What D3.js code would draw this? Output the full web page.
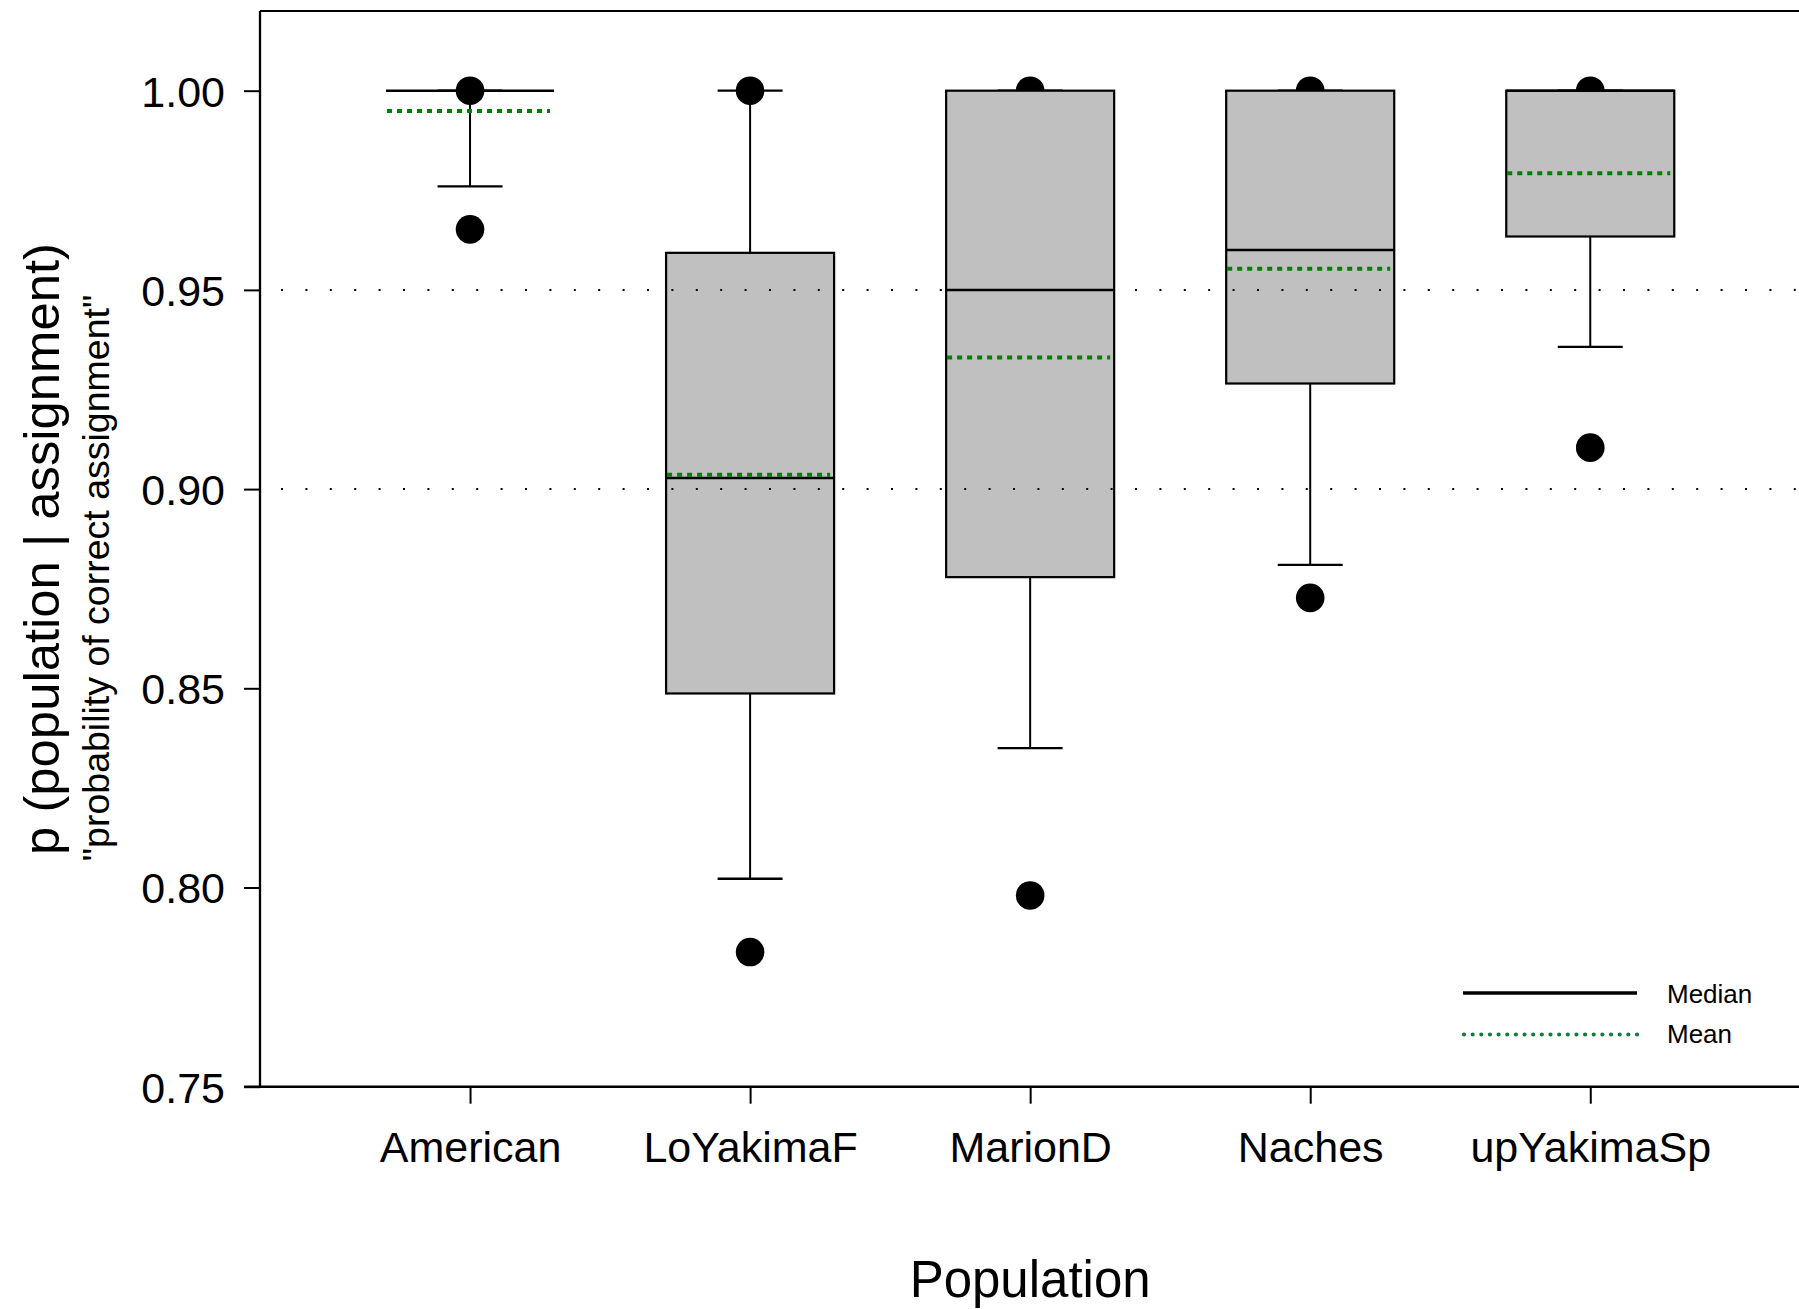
<!DOCTYPE html>
<html>
<head>
<meta charset="utf-8">
<script src="https://cdn.jsdelivr.net/npm/d3@7"></script>
<style>
  html, body { margin: 0; padding: 0; background: #fff; }
  svg { display: block; font-family: "Liberation Sans", Arial, sans-serif; }
</style>
</head>
<body>
<svg id="chart" width="1799" height="1309"></svg>
<script>
// Populations and box-plot summaries of p(population | assignment)
const categories   = ["American", "LoYakimaF", "MarionD", "Naches", "upYakimaSp"];
const whiskerLow   = [0.976, 0.8022, 0.835, 0.881, 0.9357];
const q1           = [1.000, 0.8487, 0.8779, 0.9265, 0.9634];
const median       = [1.000, 0.9028, 0.950, 0.960, 1.000];
const q3           = [1.000, 0.9593, 1.000, 1.000, 1.000];
const whiskerHigh  = [1.000, 1.000, 1.000, 1.000, 1.000];
const mean         = [0.9949, 0.9036, 0.933, 0.9553, 0.9793];
const outliers     = [[1.000, 0.9652], [1.000, 0.7838], [1.000, 0.798], [1.000, 0.8727], [1.000, 0.9104]];
const yTicks       = [0.75, 0.80, 0.85, 0.90, 0.95, 1.00];
const refLines     = [0.90, 0.95];

const svg = d3.select("#chart");
const plotLeft = 260, plotTop = 11, plotBottom = 1086.7, plotRight = 1800.3;

const x = d3.scaleLinear().domain([0.25, 5.75]).range([plotLeft, plotRight]);
const y = d3.scaleLinear().domain([0.75, 1.02]).range([plotBottom, plotTop]);

const boxW = 0.6, capW = 0.232;
const rows = categories.map((c, i) => ({
  c, pos: i + 1, lo: whiskerLow[i], q1: q1[i], med: median[i], q3: q3[i],
  hi: whiskerHigh[i], mean: mean[i], out: outliers[i]
}));

const g = svg.append("g");

// whiskers
g.selectAll("line.wlo").data(rows).join("line").attr("class", "wlo")
  .attr("x1", d => x(d.pos)).attr("x2", d => x(d.pos))
  .attr("y1", d => y(d.q1)).attr("y2", d => y(d.lo))
  .attr("stroke", "#000").attr("stroke-width", 2);
g.selectAll("line.whi").data(rows).join("line").attr("class", "whi")
  .attr("x1", d => x(d.pos)).attr("x2", d => x(d.pos))
  .attr("y1", d => y(d.q3)).attr("y2", d => y(d.hi))
  .attr("stroke", "#000").attr("stroke-width", 2);
// caps
["lo", "hi"].forEach(k => {
  g.selectAll("line.cap" + k).data(rows).join("line").attr("class", "cap" + k)
    .attr("x1", d => x(d.pos - capW / 2)).attr("x2", d => x(d.pos + capW / 2))
    .attr("y1", d => y(d[k])).attr("y2", d => y(d[k]))
    .attr("stroke", "#000").attr("stroke-width", 2.3);
});

// outlying points
const pts = rows.flatMap(d => d.out.map(v => ({ pos: d.pos, v })));
g.selectAll("circle.pt").data(pts).join("circle").attr("class", "pt")
  .attr("cx", d => x(d.pos)).attr("cy", d => y(d.v)).attr("r", 14.3)
  .attr("fill", "#000");

// boxes
g.selectAll("rect.box").data(rows.filter(d => d.q3 > d.q1)).join("rect").attr("class", "box")
  .attr("x", d => x(d.pos - boxW / 2))
  .attr("width", d => x(d.pos + boxW / 2) - x(d.pos - boxW / 2))
  .attr("y", d => y(d.q3))
  .attr("height", d => y(d.q1) - y(d.q3))
  .attr("fill", "#c0c0c0").attr("stroke", "#000").attr("stroke-width", 2.2);

// medians
g.selectAll("line.med").data(rows).join("line").attr("class", "med")
  .attr("x1", d => x(d.pos - boxW / 2)).attr("x2", d => x(d.pos + boxW / 2))
  .attr("y1", d => y(d.med)).attr("y2", d => y(d.med))
  .attr("stroke", "#000").attr("stroke-width", 2.5);

// means
g.selectAll("line.mean").data(rows).join("line").attr("class", "mean")
  .attr("x1", d => x(d.pos - boxW / 2) + 1).attr("x2", d => x(d.pos + boxW / 2) - 4)
  .attr("y1", d => y(d.mean)).attr("y2", d => y(d.mean))
  .attr("stroke", "#008000").attr("stroke-width", 4)
  .attr("stroke-dasharray", "5,5");

// dotted reference lines
g.selectAll("line.ref").data(refLines).join("line").attr("class", "ref")
  .attr("x1", plotLeft).attr("x2", plotRight)
  .attr("y1", d => y(d)).attr("y2", d => y(d))
  .attr("stroke", "#000").attr("stroke-width", 2)
  .attr("stroke-dasharray", "2,22.4").attr("stroke-dashoffset", 3.4);

// frame: top edge
svg.append("line").attr("x1", plotLeft).attr("x2", plotRight).attr("y1", plotTop).attr("y2", plotTop)
  .attr("stroke", "#000").attr("stroke-width", 2.2);

// y axis
const yAxis = svg.append("g").attr("transform", `translate(${plotLeft},0)`)
  .call(d3.axisLeft(y).tickValues(yTicks).tickFormat(d3.format(".2f")).tickSize(16).tickPadding(19));
yAxis.select(".domain").attr("d", `M0,${plotTop}V${plotBottom}`).attr("stroke-width", 2.3);
yAxis.selectAll(".tick line").attr("stroke-width", 2);
yAxis.selectAll(".tick text").attr("font-size", 43).attr("fill", "#000")
  .attr("font-family", "Liberation Sans, Arial, sans-serif").attr("dy", "0.36em");

// x axis
const xAxis = svg.append("g").attr("transform", `translate(0,${plotBottom})`)
  .call(d3.axisBottom(x).tickValues(categories.map((c, i) => i + 1))
    .tickFormat((d, i) => categories[i]).tickSize(17).tickPadding(0));
xAxis.select(".domain").attr("d", `M${plotLeft - 16},0H${plotRight}`).attr("stroke-width", 2.5);
xAxis.selectAll(".tick line").attr("stroke-width", 2);
xAxis.selectAll(".tick text").attr("font-size", 43).attr("fill", "#000")
  .attr("font-family", "Liberation Sans, Arial, sans-serif")
  .attr("y", 75).attr("dy", 0);

// axis titles
svg.append("text").attr("x", (plotLeft + plotRight) / 2).attr("y", 1297)
  .attr("text-anchor", "middle").attr("font-size", 51).text("Population");
svg.append("text").attr("transform", "translate(59,549) rotate(-90)")
  .attr("text-anchor", "middle").attr("font-size", 50.8).text("p (population | assignment)");
svg.append("text").attr("transform", "translate(109,578) rotate(-90)")
  .attr("text-anchor", "middle").attr("font-size", 37.5).text("\"probability of correct assignment\"");

// legend
const legend = svg.append("g");
legend.append("line").attr("x1", 1463).attr("x2", 1637).attr("y1", 993).attr("y2", 993)
  .attr("stroke", "#000").attr("stroke-width", 3.5);
legend.append("line").attr("x1", 1464).attr("x2", 1637).attr("y1", 1034.5).attr("y2", 1034.5)
  .attr("stroke", "#117d3a").attr("stroke-width", 4.2)
  .attr("stroke-linecap", "round").attr("stroke-dasharray", "0,8.65");
legend.append("text").attr("x", 1667).attr("y", 1003).attr("font-size", 26).text("Median");
legend.append("text").attr("x", 1667).attr("y", 1043).attr("font-size", 26).text("Mean");
</script>
</body>
</html>
